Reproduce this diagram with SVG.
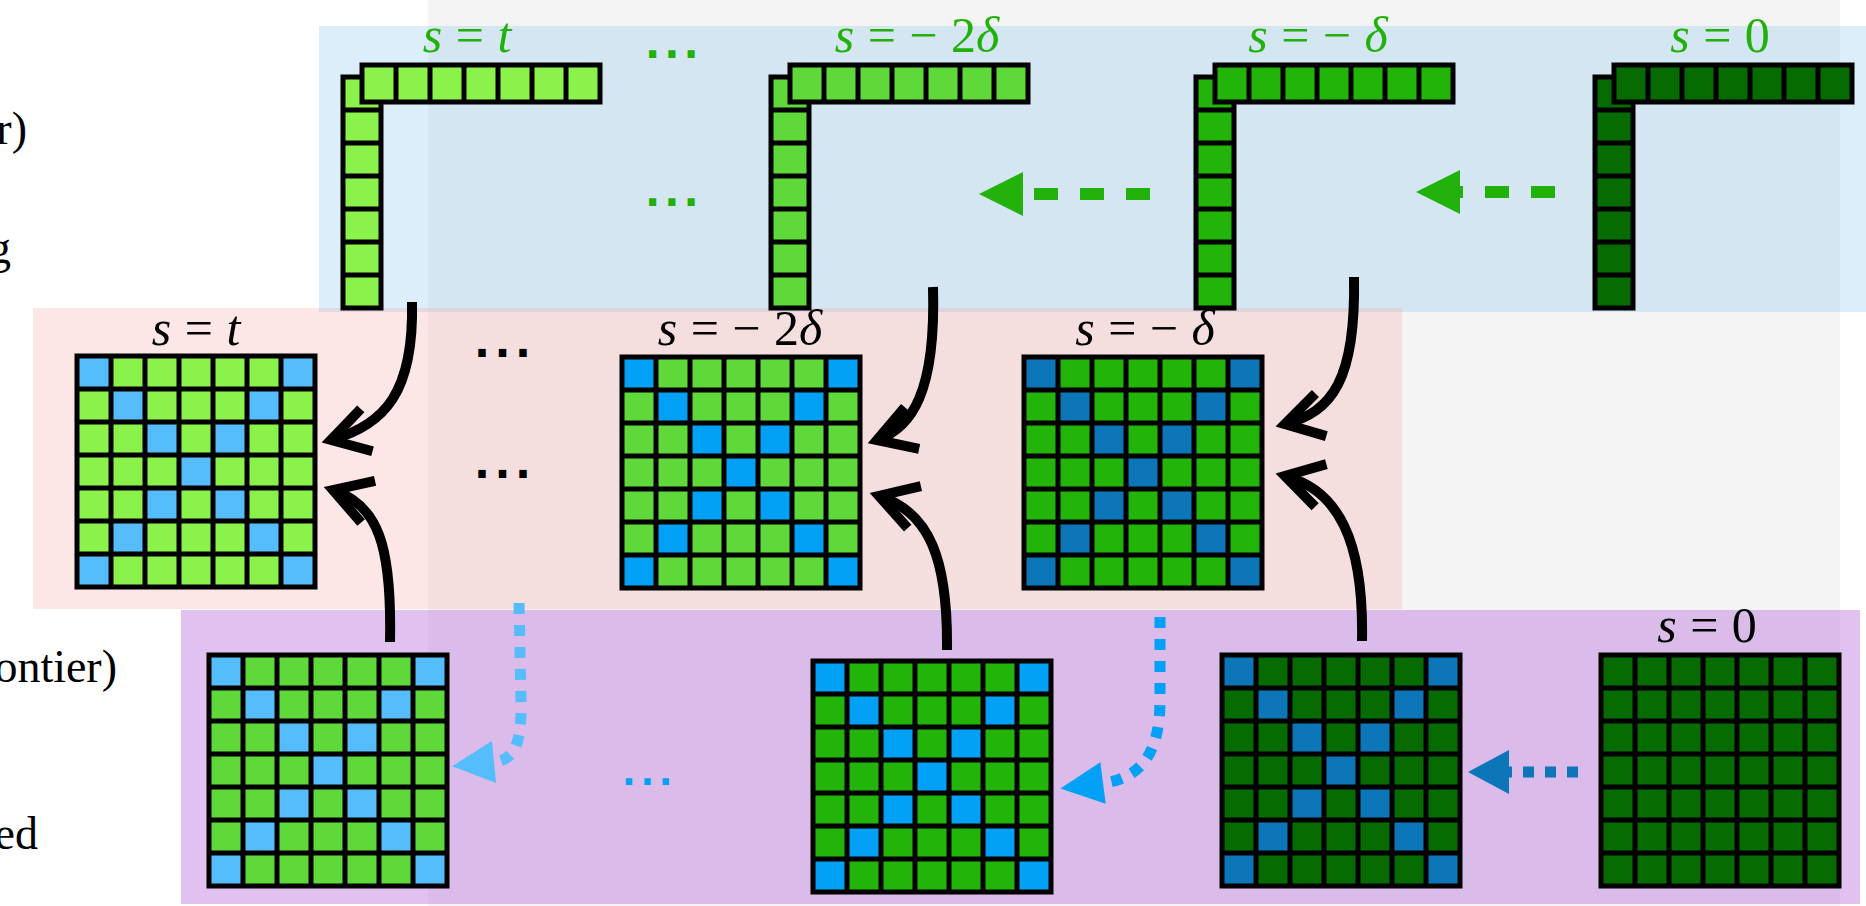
<svg xmlns="http://www.w3.org/2000/svg" xmlns:xlink="http://www.w3.org/1999/xlink" width="1866" height="906" viewBox="0 0 1866 906">
<style>
.ln{fill:none;stroke:#000;stroke-width:5}
.bx{stroke:#000;stroke-width:5}
.m{font-family:"Liberation Serif","Times New Roman",serif;font-size:50px;word-spacing:1px;text-anchor:middle}
.i{font-style:italic}
.gt{fill:#22b00b}
.kt{fill:#000}
.side{font-family:"Liberation Serif","Times New Roman",serif;font-size:46px;fill:#000;text-anchor:end}
.dots{font-family:"DejaVu Sans",sans-serif;font-weight:bold}
.arw{fill:none;stroke:#000;stroke-width:10;stroke-linecap:butt;marker-end:url(#chev)}
.gd{fill:none;stroke:#22b00b;stroke-width:12;stroke-dasharray:24 22}
.bd{fill:none;stroke-width:11;stroke-dasharray:11 11}
</style>
<defs>
<marker id="chev" markerUnits="userSpaceOnUse" orient="auto" overflow="visible" markerWidth="1" markerHeight="1" refX="0" refY="0">
<path d="M-37,-22 L0,0 L-37,22" fill="none" stroke="#000" stroke-width="10" stroke-linejoin="miter" stroke-miterlimit="10"/>
</marker>
<marker id="tg" markerUnits="userSpaceOnUse" orient="auto" overflow="visible" markerWidth="1" markerHeight="1"><path d="M0,-22 L44,0 L0,22 z" fill="#22b00b"/></marker>
<marker id="tb1" markerUnits="userSpaceOnUse" orient="auto" overflow="visible" markerWidth="1" markerHeight="1"><path d="M0,-21 L42,0 L0,21 z" fill="#55bdfb"/></marker>
<marker id="tb2" markerUnits="userSpaceOnUse" orient="auto" overflow="visible" markerWidth="1" markerHeight="1"><path d="M0,-21 L43,0 L0,21 z" fill="#02a1f5"/></marker>
<marker id="tb3" markerUnits="userSpaceOnUse" orient="auto" overflow="visible" markerWidth="1" markerHeight="1"><path d="M0,-22 L41,0 L0,22 z" fill="#0c76b8"/></marker>
<g id="gl">
<path class="ln" d="M34 0V231M68 0V231M102 0V231M136 0V231M170 0V231M204 0V231M0 33H238M0 66H238M0 99H238M0 132H238M0 165H238M0 198H238"/>
<rect class="ln" width="238" height="231"/>
</g>
<g id="xc">
<rect x="0" y="0" width="34" height="33"/><rect x="204" y="0" width="34" height="33"/>
<rect x="34" y="33" width="34" height="33"/><rect x="170" y="33" width="34" height="33"/>
<rect x="68" y="66" width="34" height="33"/><rect x="136" y="66" width="34" height="33"/>
<rect x="102" y="99" width="34" height="33"/>
<rect x="68" y="132" width="34" height="33"/><rect x="136" y="132" width="34" height="33"/>
<rect x="34" y="165" width="34" height="33"/><rect x="170" y="165" width="34" height="33"/>
<rect x="0" y="198" width="34" height="33"/><rect x="204" y="198" width="34" height="33"/>
</g>
<g id="Lsh">
<rect class="bx" width="38" height="231"/>
<path class="ln" d="M0 33H38M0 66H38M0 99H38M0 132H38M0 165H38M0 198H38"/>
<rect class="bx" x="19" y="-12" width="238" height="37"/>
<path class="ln" d="M53 -12V25M87 -12V25M121 -12V25M155 -12V25M189 -12V25M223 -12V25"/>
</g>
</defs>

<!-- background panels -->
<g id="panels">
<rect x="428" y="0" width="1412" height="906" fill="#f4f4f4"/>
<rect x="319" y="26" width="1547" height="286" fill="rgb(125,192,236)" fill-opacity="0.27"/>
<rect x="33" y="308" width="1369" height="301" fill="rgb(247,162,162)" fill-opacity="0.27"/>
<rect x="181" y="610" width="1679" height="294" fill="rgb(187,118,222)" fill-opacity="0.45"/>
</g>

<!-- left side labels (cut off at the edge, as in the picture) -->
<g id="side-labels">
<text class="side" x="27" y="144">r)</text>
<text class="side" x="11" y="263">g</text>
<text class="side" x="117" y="682">ontier)</text>
<text class="side" x="38" y="849">ed</text>
</g>

<!-- top row: L-shaped vectors -->
<g id="L-t"><use href="#Lsh" x="343" y="77" fill="#8af24b"/><text class="m gt" x="467" y="52"><tspan class="i">s</tspan> = <tspan class="i">t</tspan></text></g>
<g id="L-m2d"><use href="#Lsh" x="771" y="77" fill="#5fd83a"/><text class="m gt" x="917" y="52"><tspan class="i">s</tspan> = − 2<tspan class="i">δ</tspan></text></g>
<g id="L-md"><use href="#Lsh" x="1196" y="77" fill="#22b408"/><text class="m gt" x="1318" y="52"><tspan class="i">s</tspan> = − <tspan class="i">δ</tspan></text></g>
<g id="L-0"><use href="#Lsh" x="1595" y="77" fill="#066b00"/><text class="m gt" x="1720" y="52"><tspan class="i">s</tspan> = 0</text></g>
<g id="top-dots">
<text class="dots" x="645" y="58" font-size="40" letter-spacing="4" fill="#22b00b">...</text>
<text class="dots" x="645" y="206" font-size="40" letter-spacing="4" fill="#22b00b">...</text>
</g>

<!-- middle row: grids -->
<g id="grid-mid-t">
<g transform="translate(77,356)"><rect width="238" height="231" fill="#8af24b"/><use href="#xc" fill="#55bdfb"/><use href="#gl"/></g>
<text class="m kt" x="196" y="345"><tspan class="i">s</tspan> = <tspan class="i">t</tspan></text>
</g>
<g id="grid-mid-m2d">
<g transform="translate(622,357)"><rect width="238" height="231" fill="#5fd83a"/><use href="#xc" fill="#02a1f5"/><use href="#gl"/></g>
<text class="m kt" x="740" y="345"><tspan class="i">s</tspan> = − 2<tspan class="i">δ</tspan></text>
</g>
<g id="grid-mid-md">
<g transform="translate(1024,357)"><rect width="238" height="231" fill="#22b408"/><use href="#xc" fill="#0c76b8"/><use href="#gl"/></g>
<text class="m kt" x="1145" y="345"><tspan class="i">s</tspan> = − <tspan class="i">δ</tspan></text>
</g>
<g id="mid-dots">
<text class="dots" x="474" y="357" font-size="42" letter-spacing="4.5" fill="#000">...</text>
<text class="dots" x="474" y="478" font-size="42" letter-spacing="4.5" fill="#000">...</text>
</g>

<!-- bottom row: grids -->
<g id="grid-bot-1" transform="translate(209,655)">
<rect width="238" height="231" fill="#5fd83a"/><use href="#xc" fill="#55bdfb"/><use href="#gl"/>
</g>
<g id="grid-bot-2" transform="translate(813,661)">
<rect width="238" height="231" fill="#22b408"/><use href="#xc" fill="#02a1f5"/><use href="#gl"/>
</g>
<g id="grid-bot-3" transform="translate(1222,655)">
<rect width="238" height="231" fill="#066b00"/><use href="#xc" fill="#0c76b8"/><use href="#gl"/>
</g>
<g id="grid-bot-0">
<g transform="translate(1601,655)"><rect width="238" height="231" fill="#066b00"/><use href="#gl"/></g>
<text class="m kt" x="1707" y="642"><tspan class="i">s</tspan> = 0</text>
</g>
<text class="dots" x="622" y="785" font-size="36" letter-spacing="4.7" fill="#02a1f5">...</text>

<!-- connectors -->
<g id="connectors">
<path class="arw" d="M412 302 C414 392 385 425 331 440"/>
<path class="arw" d="M390 642 C392 545 378 505 333 490"/>
<path class="arw" d="M933 287 C936 392 912 428 877 440"/>
<path class="arw" d="M947 650 C948 560 930 512 879 496"/>
<path class="arw" d="M1354 277 C1356 380 1332 412 1285 424"/>
<path class="arw" d="M1362 641 C1364 540 1338 490 1285 476"/>
<path class="gd" d="M1150 194 H1023" marker-end="url(#tg)"/>
<path class="gd" d="M1555 192 H1460" marker-end="url(#tg)"/>
<path class="bd" stroke="#55bdfb" d="M519 603 L521 700 C522 745 514 760 494 762" marker-end="url(#tb1)"/>
<path class="bd" stroke="#02a1f5" d="M1160 617 L1160 700 C1160 752 1142 778 1103 783" marker-end="url(#tb2)"/>
<path class="bd" stroke="#0c76b8" stroke-dasharray="11 12" d="M1578 772 H1509" marker-end="url(#tb3)"/>
</g>
</svg>
